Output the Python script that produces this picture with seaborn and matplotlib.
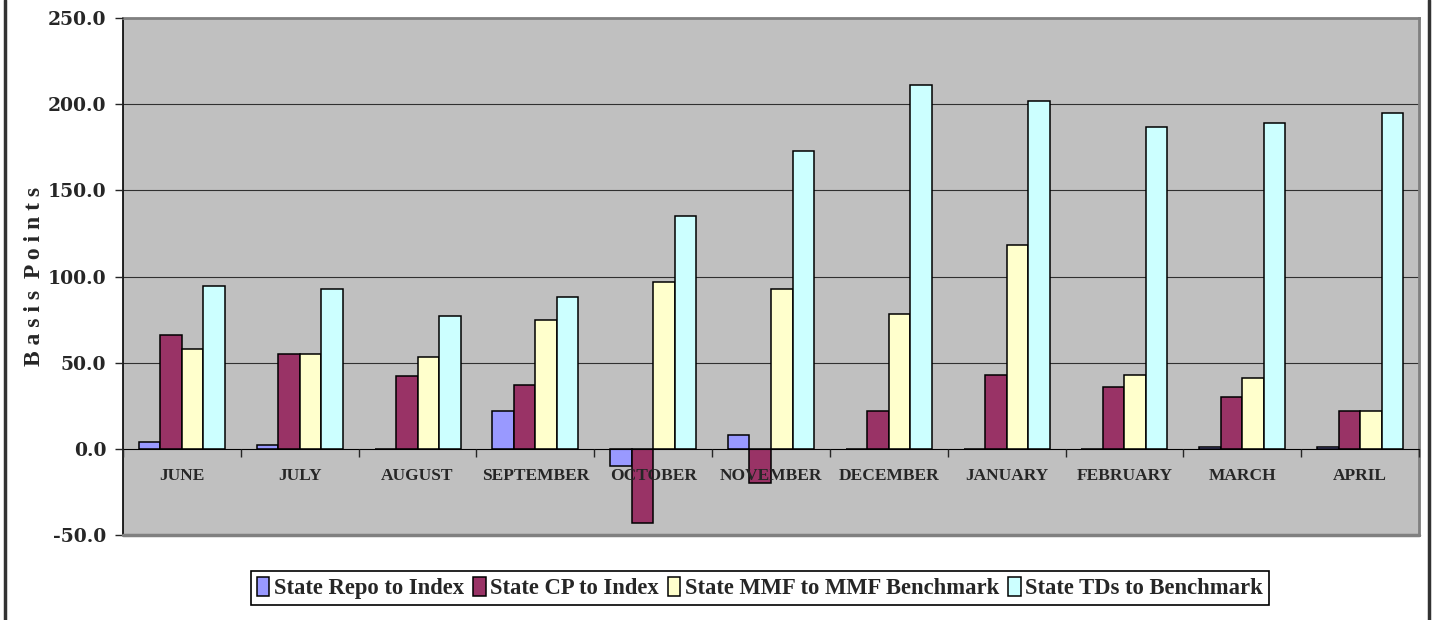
"""
plot.py  --  State investment spreads vs. benchmark, by month (basis points)
"""
import numpy as np
import pandas as pd
import matplotlib
matplotlib.use("Agg")
import matplotlib.pyplot as plt
from matplotlib.lines import Line2D
import seaborn as sns

# ── data ──────────────────────────────────────────────────────────────────
months = ["JUNE", "JULY", "AUGUST", "SEPTEMBER", "OCTOBER", "NOVEMBER",
          "DECEMBER", "JANUARY", "FEBRUARY", "MARCH", "APRIL"]
series = ["State Repo to Index", "State CP to Index",
          "State MMF to MMF Benchmark", "State TDs to Benchmark"]
repo = [4, 2, 0, 22, -10, 8, 0, 0, 0, 1, 1]
cp   = [66, 55, 42, 37, -43, -20, 22, 43, 36, 30, 22]
mmf  = [58, 55, 53, 75, 97, 93, 78, 118, 43, 41, 22]
tds  = [94.5, 93, 77, 88, 135, 173, 211, 202, 187, 189, 195]
colors = ["#9999FF", "#993366", "#FFFFCC", "#CCFFFF"]

df = pd.DataFrame({"month": months * 4,
                   "series": np.repeat(series, len(months)),
                   "value": repo + cp + mmf + tds})

# ── figure ────────────────────────────────────────────────────────────────
sns.set_style("white")
serif = ["Liberation Serif", "DejaVu Serif"]
plt.rcParams["font.family"] = serif

fig = plt.figure(figsize=(14.32, 6.2), dpi=100)
ax = fig.add_axes([123 / 1432, 1 - 535 / 620, (1419 - 123) / 1432, (535 - 18) / 620])
ax.set_facecolor("#C0C0C0")

sns.barplot(data=df, x="month", y="value", hue="series", order=months,
            hue_order=series, palette=colors, width=0.73, edgecolor="black",
            linewidth=1.1, saturation=1, ax=ax, legend=True, zorder=2)

yt = np.arange(-50, 251, 50)
ax.set_ylim(-50, 250)
ax.set_xlim(-0.5, len(months) - 0.5)
ax.set_yticks(yt)
ax.set_yticklabels([f"{v:.1f}" for v in yt],
                   fontfamily="DejaVu Serif", fontweight="heavy", fontsize=13.5)
ax.tick_params(axis="y", direction="out", length=6, width=1, pad=6, left=True)

# gridlines behind bars; axis (and month labels) drawn on top of bars
for v in yt[2:-1]:
    ax.axhline(v, color="#303030", lw=0.8, zorder=0.5)
ax.set_axisbelow(False)

# x axis sits on zero, ticks between months
ax.spines["bottom"].set_position(("data", 0))
ax.spines["bottom"].set_color("black")
ax.spines["left"].set_color("black")
ax.spines["left"].set_linewidth(1.2)
for s in ["top", "right"]:
    ax.spines[s].set_color("#808080")
    ax.spines[s].set_linewidth(2)
ax.axhline(-50, color="#808080", lw=2.5, clip_on=False, zorder=5)

ax.set_xticks(range(len(months)))
ax.set_xticklabels(months, fontweight="bold", fontsize=12.5)
ax.set_xticks(np.arange(-0.5, len(months)), minor=True)
ax.tick_params(axis="x", which="major", length=0, pad=14)
ax.tick_params(axis="x", which="minor", direction="out", length=6, width=1,
               bottom=True)
ax.set_xlabel("")
ax.set_ylabel("B a s i s  P o i n t s", fontweight="bold", fontsize=17)
ax.yaxis.set_label_coords(-0.0605, 0.5)

leg = ax.legend(loc="center", bbox_to_anchor=(760 / 1432, 1 - 588 / 620),
                bbox_transform=fig.transFigure, ncol=4, frameon=True,
                fancybox=False, edgecolor="black", framealpha=1,
                prop={"family": serif, "weight": "bold", "size": 16.3},
                handlelength=0.55, handleheight=0.9, handletextpad=0.2,
                columnspacing=0.4, borderpad=0.25, borderaxespad=0)
leg.get_frame().set_linewidth(1.2)

# outer chart border (left & right edges)
for x in (5 / 1432, 1429 / 1432):
    fig.add_artist(Line2D([x, x], [0, 1], color="#333333", lw=2.5,
                          transform=fig.transFigure))

fig.savefig("out.png", dpi=100)
